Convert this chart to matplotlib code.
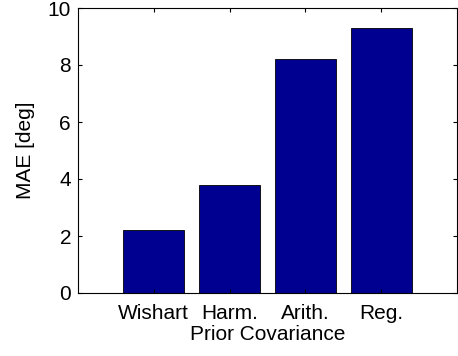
import matplotlib
matplotlib.use('Agg')
import matplotlib.pyplot as plt

categories = ['Wishart', 'Harm.', 'Arith.', 'Reg.']
mae_deg = [2.2, 3.8, 8.2, 9.3]
positions = [1, 2, 3, 4]

plt.rcParams['font.family'] = ['Liberation Sans', 'DejaVu Sans']

fig = plt.figure(figsize=(4.58, 3.56), dpi=100)
ax = fig.add_axes([78 / 458, 1 - 293 / 356, (457 - 78) / 458, (293 - 8) / 356])

ax.bar(positions, mae_deg, width=0.8, color='#000090', edgecolor='black', linewidth=0.6)
ax.set_xlim(0, 5)
ax.set_ylim(0, 10)
ax.set_xticks(positions)
ax.set_xticklabels(categories)
ax.set_yticks([0, 2, 4, 6, 8, 10])
ax.tick_params(direction='in', top=True, right=True, labelsize=15, length=3)
ax.tick_params(axis='y', pad=5)
ax.tick_params(axis='x', pad=8)
for s in ax.spines.values():
    s.set_linewidth(0.8)
ax.set_xlabel('Prior Covariance', fontsize=15, labelpad=1)
ax.set_ylabel('MAE [deg]', fontsize=15, labelpad=9)

fig.savefig('out.png', dpi=100)
